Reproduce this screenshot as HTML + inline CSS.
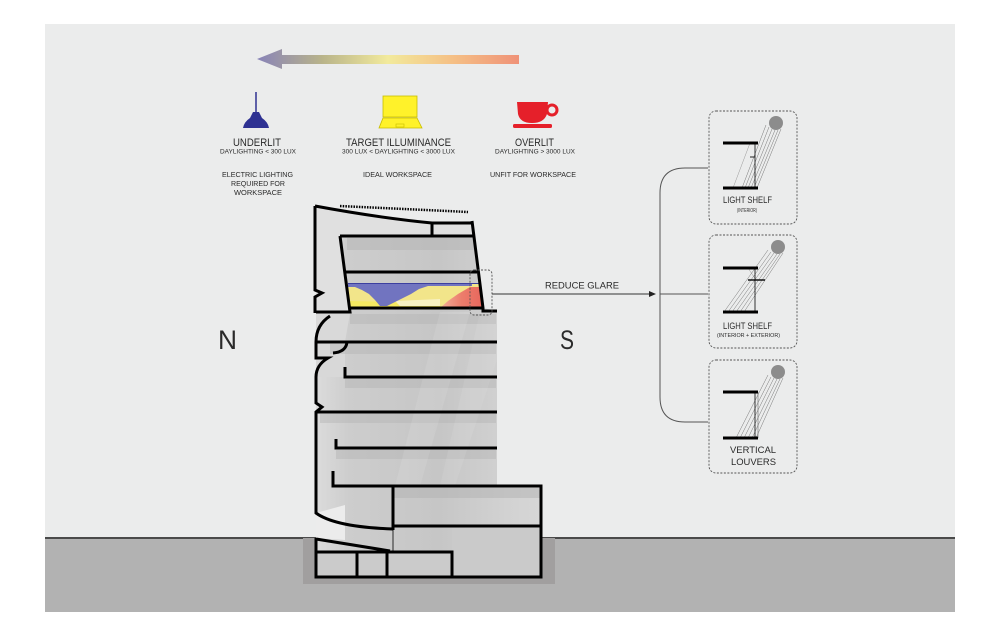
<!DOCTYPE html>
<html><head><meta charset="utf-8">
<style>
html,body{margin:0;padding:0;background:#fff;}
svg{display:block;}
text{font-family:"Liberation Sans",Arial,sans-serif;fill:#2a2a2a;}
</style></head>
<body>
<svg width="1000" height="636" viewBox="0 0 1000 636" xmlns="http://www.w3.org/2000/svg">
<defs>
  <linearGradient id="arr" x1="257" y1="0" x2="519" y2="0" gradientUnits="userSpaceOnUse">
    <stop offset="0" stop-color="#8883b8"/>
    <stop offset="0.25" stop-color="#b9b48a"/>
    <stop offset="0.5" stop-color="#f2ea9c"/>
    <stop offset="0.75" stop-color="#f5bf85"/>
    <stop offset="1" stop-color="#ef9278"/>
  </linearGradient>
  <linearGradient id="bld" x1="315" y1="0" x2="541" y2="0" gradientUnits="userSpaceOnUse">
    <stop offset="0" stop-color="#dcdcdc"/>
    <stop offset="0.15" stop-color="#cdcdcd"/>
    <stop offset="0.55" stop-color="#c6c6c6"/>
    <stop offset="0.85" stop-color="#d2d2d2"/>
    <stop offset="1" stop-color="#d6d6d6"/>
  </linearGradient>
  <linearGradient id="red" x1="440" y1="0" x2="483" y2="0" gradientUnits="userSpaceOnUse">
    <stop offset="0" stop-color="#f3b09a"/>
    <stop offset="0.5" stop-color="#ec7d6c"/>
    <stop offset="1" stop-color="#e8665c"/>
  </linearGradient>
</defs>

<!-- panel -->
<rect x="45" y="24" width="910" height="588" fill="#ebecec"/>
<rect x="45" y="538" width="910" height="74" fill="#b2b2b2"/>
<line x1="45" y1="538" x2="955" y2="538" stroke="#4a4a4a" stroke-width="2"/>
<rect x="303" y="538" width="252" height="46" fill="#a19f9f"/>

<!-- gradient arrow -->
<path d="M257 59 L282 49 L282 55 L519 55 L519 64 L282 64 L282 69 Z" fill="url(#arr)"/>

<!-- lamp -->
<line x1="256" y1="92" x2="256" y2="113" stroke="#2e3192" stroke-width="1.5"/>
<path d="M253 112 L259 112 L262 118 Q268 122 269 128 L243 128 Q244 122 250 118 Z" fill="#2e3192"/>
<!-- laptop -->
<rect x="383" y="96" width="34" height="21" fill="#fff22a" stroke="#c8bd00" stroke-width="0.8"/>
<path d="M383 118 L417 118 L422 128 L379 128 Z" fill="#fff22a" stroke="#c8bd00" stroke-width="0.8"/>
<rect x="396" y="124" width="8" height="3" fill="none" stroke="#c8bd00" stroke-width="0.6"/>
<!-- cup -->
<path d="M517 102 L548 102 L547 114 Q544 123 532 123 Q520 123 518 114 Z" fill="#e5202a"/>
<circle cx="552" cy="110" r="5" fill="none" stroke="#e5202a" stroke-width="3"/>
<rect x="513" y="124" width="39" height="4" rx="1.5" fill="#e5202a"/>

<!-- legend text -->
<text x="233" y="146" font-size="11" textLength="48" lengthAdjust="spacingAndGlyphs">UNDERLIT</text>
<text x="220" y="153.5" font-size="6.5" textLength="76" lengthAdjust="spacingAndGlyphs">DAYLIGHTING &lt; 300 LUX</text>
<text x="222" y="177" font-size="7" textLength="71" lengthAdjust="spacingAndGlyphs">ELECTRIC LIGHTING</text>
<text x="231" y="186" font-size="7" textLength="54" lengthAdjust="spacingAndGlyphs">REQUIRED FOR</text>
<text x="234" y="195" font-size="7" textLength="48" lengthAdjust="spacingAndGlyphs">WORKSPACE</text>

<text x="346" y="146" font-size="11" textLength="105" lengthAdjust="spacingAndGlyphs">TARGET ILLUMINANCE</text>
<text x="342" y="153.5" font-size="6.5" textLength="113" lengthAdjust="spacingAndGlyphs">300 LUX &lt; DAYLIGHTING &lt; 3000 LUX</text>
<text x="363" y="177" font-size="7" textLength="69" lengthAdjust="spacingAndGlyphs">IDEAL WORKSPACE</text>

<text x="515" y="146" font-size="11" textLength="39" lengthAdjust="spacingAndGlyphs">OVERLIT</text>
<text x="495" y="153.5" font-size="6.5" textLength="80" lengthAdjust="spacingAndGlyphs">DAYLIGHTING &gt; 3000 LUX</text>
<text x="490" y="177" font-size="7" textLength="86" lengthAdjust="spacingAndGlyphs">UNFIT FOR WORKSPACE</text>

<!-- N / S -->
<text x="218" y="349" font-size="27" textLength="19" lengthAdjust="spacingAndGlyphs" fill="#333">N</text>
<text x="560" y="349" font-size="27" textLength="14" lengthAdjust="spacingAndGlyphs" fill="#333">S</text>

<!-- building fill -->
<path d="M315 206 Q380 218 432 223 L472 221 L483 308 L497 311 L497 486 L541 486 L541 577 L316 577 L316 206 Z" fill="url(#bld)"/>
<path d="M315 206 Q380 218 432 223 L472 221 L472 236 L340 236 L350 312 L316 312 Z" fill="#e0e0e0"/>
<path d="M316 313 L350 313 L345 342 L316 342 Z" fill="#d9d9d9"/>
<path d="M316 342 L345 342 L345 377 L316 377 Z" fill="#d8d8d8"/>
<!-- floor shading bands -->
<rect x="347" y="238" width="128" height="12" fill="#b4b4b4" opacity="0.5"/>
<rect x="350" y="314" width="146" height="10" fill="#b4b4b4" opacity="0.45"/>
<rect x="330" y="344" width="166" height="10" fill="#b4b4b4" opacity="0.45"/>
<rect x="345" y="379" width="151" height="9" fill="#b4b4b4" opacity="0.45"/>
<rect x="320" y="414" width="176" height="9" fill="#b4b4b4" opacity="0.45"/>
<rect x="336" y="450" width="160" height="9" fill="#b4b4b4" opacity="0.45"/>
<rect x="393" y="488" width="147" height="10" fill="#b2b2b2" opacity="0.5"/>
<rect x="316" y="553" width="136" height="23" fill="#cbcbcb"/>
<rect x="452" y="528" width="88" height="48" fill="#cacaca"/>
<!-- light streaks -->
<path d="M440 312 L470 312 L420 486 L395 486 Z" fill="#ffffff" opacity="0.1"/>
<path d="M480 312 L497 312 L497 360 L455 486 L440 486 Z" fill="#ffffff" opacity="0.08"/>
<path d="M316 513 L345 505 L345 540 L316 538 Z" fill="#ececec"/>

<!-- colour daylight floor -->
<path d="M348 283 L480 283 L483 308 L350 308 Z" fill="#f2e58a"/>
<path d="M350 301 L440 303 L440 308 L350 308 Z" fill="#f6ea62"/>
<path d="M395 301 L440 299 L440 306 L400 306 Z" fill="#f7f1c4"/>
<path d="M440 308 L483 308 L481 287 L470 287 L458 294 L448 301 Z" fill="url(#red)"/>
<path d="M348 283 L472 283 L472 286 L428 286 L419 289 L411 294 L401 299 L393 303 L387 306 L380 306 L375 300 L369 294 L362 290 L355 287 L348 287 Z" fill="#7174c0"/>
<line x1="348" y1="283.5" x2="480" y2="283.5" stroke="#3c3fa0" stroke-width="1"/>

<!-- building lines -->
<g stroke="#000" stroke-width="3" fill="none" stroke-linejoin="miter">
  <path d="M315 206 Q380 218 432 223 L472 223"/>
  <line x1="432" y1="223" x2="432" y2="236"/>
  <path d="M472 221 L483 308 L483 311 L497 311"/>
  <line x1="340" y1="236" x2="473" y2="236"/>
  <path d="M340 236 L350 312 L316 312"/>
  <line x1="346" y1="272" x2="477" y2="272"/>
  <line x1="350" y1="308" x2="483" y2="308"/>
  <path d="M315 206 L315 290 L322 293 L315 297 L315 313"/>
  <path d="M330 316 Q316 325 316 342 L316 358 L328 358 Q316 365 316 377 L316 403 L322 407 L316 412 L316 513 Q335 527 393 529"/>
  <line x1="316" y1="342" x2="497" y2="342"/>
  <path d="M347 342 Q346 352 333 353"/>
  <path d="M345 367 L345 377 L497 377"/>
  <line x1="316" y1="412" x2="497" y2="412"/>
  <path d="M336 439 L336 448 L497 448"/>
  <path d="M333 471 L333 486 L541 486 L541 577 L316 577 L316 538"/>
  <line x1="393" y1="486" x2="393" y2="530"/>
  <line x1="393" y1="526" x2="541" y2="526"/>
  <path d="M316 539 L390 551"/>
  <path d="M316 552 L452 552 L452 577"/>
  <line x1="357" y1="552" x2="357" y2="577"/>
  <line x1="387" y1="552" x2="387" y2="577"/>
</g>
<line x1="340" y1="206" x2="468" y2="212" stroke="#000" stroke-width="2.5" stroke-dasharray="1.5,1.2"/>
<line x1="393" y1="530" x2="393" y2="552" stroke="#000" stroke-width="0.8"/>

<!-- glare dashed box -->
<rect x="470" y="270" width="22" height="45" rx="4" fill="none" stroke="#555" stroke-width="0.9" stroke-dasharray="2,1.5"/>

<!-- reduce glare -->
<text x="545" y="288.5" font-size="9" textLength="74" lengthAdjust="spacingAndGlyphs">REDUCE GLARE</text>
<line x1="492" y1="294" x2="651" y2="294" stroke="#333" stroke-width="1"/>
<path d="M656 294 L649 291 L649 297 Z" fill="#222"/>

<!-- bracket -->
<path d="M708 168 L685 168 Q660 168 660 193 L660 397 Q660 422 685 422 L708 422" fill="none" stroke="#555" stroke-width="1"/>
<line x1="660" y1="294" x2="708" y2="294" stroke="#555" stroke-width="1"/>

<!-- option boxes -->
<g fill="none" stroke="#555" stroke-width="0.9" stroke-dasharray="2,1.5">
  <rect x="709" y="111" width="88" height="113" rx="7"/>
  <rect x="709" y="235" width="88" height="113" rx="7"/>
  <rect x="709" y="360" width="88" height="113" rx="7"/>
</g>

<!-- box 1 -->
<circle cx="776" cy="123" r="7" fill="#8c8c8c"/>
<g stroke="#777" stroke-width="0.5">
  <line x1="766" y1="125" x2="742" y2="188"/>
  <line x1="769" y1="127" x2="745" y2="188"/>
  <line x1="772" y1="129" x2="748" y2="188"/>
  <line x1="775" y1="130" x2="751" y2="188"/>
  <line x1="778" y1="130" x2="754" y2="188"/>
  <line x1="781" y1="129" x2="757" y2="188"/>
  <line x1="750" y1="143" x2="733" y2="188" stroke="#999"/>
</g>
<line x1="755" y1="143" x2="755" y2="188" stroke="#333" stroke-width="1"/>
<line x1="750" y1="157" x2="755" y2="157" stroke="#222" stroke-width="1"/>
<line x1="723" y1="143" x2="758" y2="143" stroke="#000" stroke-width="3"/>
<line x1="723" y1="188" x2="758" y2="188" stroke="#000" stroke-width="3"/>
<text x="723" y="203" font-size="9.5" textLength="49" lengthAdjust="spacingAndGlyphs">LIGHT SHELF</text>
<text x="737" y="212" font-size="5.5" textLength="20" lengthAdjust="spacingAndGlyphs">(INTERIOR)</text>

<!-- box 2 -->
<circle cx="778" cy="247" r="7" fill="#8c8c8c"/>
<g stroke="#777" stroke-width="0.5">
  <line x1="768" y1="250" x2="724" y2="312"/>
  <line x1="771" y1="252" x2="728" y2="312"/>
  <line x1="774" y1="253" x2="732" y2="312"/>
  <line x1="777" y1="254" x2="736" y2="312"/>
  <line x1="780" y1="254" x2="740" y2="312"/>
  <line x1="783" y1="253" x2="744" y2="312"/>
  <line x1="748" y1="268" x2="756" y2="280" stroke="#999"/>
</g>
<line x1="755" y1="268" x2="755" y2="312" stroke="#333" stroke-width="1"/>
<line x1="748" y1="280" x2="765" y2="280" stroke="#111" stroke-width="1.6"/>
<line x1="723" y1="268" x2="758" y2="268" stroke="#000" stroke-width="3"/>
<line x1="723" y1="312" x2="758" y2="312" stroke="#000" stroke-width="3"/>
<text x="723" y="329" font-size="9.5" textLength="49" lengthAdjust="spacingAndGlyphs">LIGHT SHELF</text>
<text x="717" y="337" font-size="5.5" textLength="63" lengthAdjust="spacingAndGlyphs">(INTERIOR + EXTERIOR)</text>

<!-- box 3 -->
<circle cx="778" cy="372" r="7" fill="#8c8c8c"/>
<g stroke="#777" stroke-width="0.5">
  <line x1="768" y1="375" x2="736" y2="438"/>
  <line x1="771" y1="377" x2="740" y2="438"/>
  <line x1="774" y1="378" x2="744" y2="438"/>
  <line x1="777" y1="379" x2="748" y2="438"/>
  <line x1="780" y1="379" x2="752" y2="438"/>
  <line x1="783" y1="378" x2="756" y2="438"/>
</g>
<line x1="755" y1="392" x2="755" y2="438" stroke="#333" stroke-width="1"/>
<line x1="758" y1="392" x2="758" y2="438" stroke="#666" stroke-width="0.6"/>
<line x1="723" y1="392" x2="758" y2="392" stroke="#000" stroke-width="3"/>
<line x1="723" y1="438" x2="758" y2="438" stroke="#000" stroke-width="3"/>
<text x="730" y="453" font-size="9.5" textLength="46" lengthAdjust="spacingAndGlyphs">VERTICAL</text>
<text x="731" y="465" font-size="9.5" textLength="45" lengthAdjust="spacingAndGlyphs">LOUVERS</text>
</svg>
</body></html>
